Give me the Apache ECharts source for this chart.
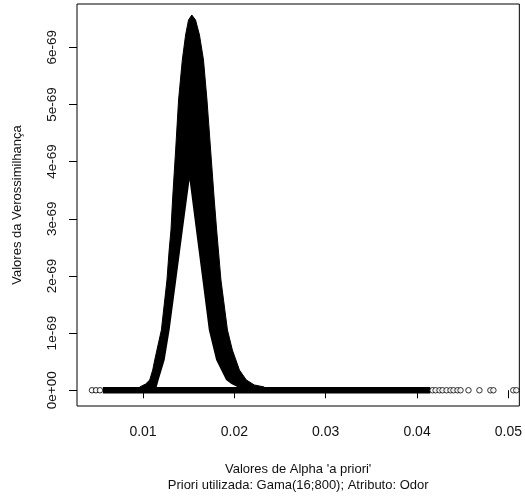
<!DOCTYPE html>
<html>
<head>
<meta charset="utf-8">
<script src="https://cdn.jsdelivr.net/npm/echarts@6/dist/echarts.min.js"></script>
<style>html,body{margin:0;padding:0;background:#fff}#c{width:525px;height:499px}</style>
</head>
<body>
<div id="c"></div>
<script>
// Likelihood values are in units of 1e-69
const outerAlpha = [0.00964, 0.01029, 0.01073, 0.01106, 0.01128, 0.01201, 0.01262, 0.01286, 0.01306, 0.01323, 0.01357, 0.01389, 0.01430, 0.01466, 0.01498, 0.01534, 0.01575, 0.01618, 0.01662, 0.01700, 0.01740, 0.01780, 0.01806, 0.01853, 0.01924, 0.01978, 0.02055, 0.02131, 0.02218, 0.02327];
const outerValue = [0.058, 0.110, 0.180, 0.355, 0.530, 1.055, 1.929, 2.454, 2.804, 3.329, 4.203, 5.078, 5.778, 6.215, 6.477, 6.565, 6.477, 6.215, 5.778, 5.078, 4.203, 3.329, 2.804, 1.929, 1.055, 0.705, 0.355, 0.180, 0.093, 0.058];
const innerAlpha = [0.01150, 0.01171, 0.01237, 0.01291, 0.01364, 0.01436, 0.01509, 0.01579, 0.01650, 0.01720, 0.01800, 0.01909, 0.01967, 0.02033];
const innerValue = [0.058, 0.180, 0.530, 1.055, 1.929, 2.804, 3.678, 2.804, 1.929, 1.055, 0.530, 0.180, 0.110, 0.058];
const baselineAlpha = [0.0056, 0.04145];
const tailAlpha = [0.00441, 0.00485, 0.00528, 0.04170, 0.04203, 0.04246, 0.04279, 0.04323, 0.04366, 0.04399, 0.04443, 0.04476, 0.04563, 0.04683, 0.04803, 0.04836, 0.05054, 0.05087];
const xTicks = [0.01, 0.02, 0.03, 0.04, 0.05];
const yTicks = [0, 1, 2, 3, 4, 5, 6];
const yTickLabels = ['0e+00', '1e-69', '2e-69', '3e-69', '4e-69', '5e-69', '6e-69'];

const font = '"Liberation Sans", Arial, Helvetica, sans-serif';
const chart = echarts.init(document.getElementById('c'), null, {renderer: 'canvas'});
const zip = (a, b) => a.map((x, i) => [x, b[i]]);

chart.setOption({
  animation: false,
  backgroundColor: '#fff',
  grid: {left: 77, right: 4, top: 4, bottom: 93, show: true, borderColor: '#000', borderWidth: 1, backgroundColor: 'transparent'},
  xAxis: {
    type: 'value', min: 0.00277, max: 0.0512,
    axisLine: {show: false},
    splitLine: {show: false},
    axisTick: {show: true, inside: false, length: 8, lineStyle: {color: '#000'}, customValues: xTicks},
    axisLabel: {customValues: xTicks, formatter: v => v.toFixed(2), color: '#111', fontSize: 14, fontFamily: font, margin: 19},
    name: "Valores de Alpha 'a priori'\nPriori utilizada: Gama(16;800); Atributo: Odor",
    nameLocation: 'middle', nameGap: 55,
    nameTextStyle: {color: '#111', fontSize: 13, fontFamily: font, lineHeight: 16}
  },
  yAxis: {
    type: 'value', min: -0.275, max: 6.757,
    axisLine: {show: false},
    splitLine: {show: false},
    axisTick: {show: true, inside: false, length: 8, lineStyle: {color: '#000'}, customValues: yTicks},
    axisLabel: {customValues: yTicks, rotate: 90, formatter: v => yTickLabels[yTicks.indexOf(Math.round(v))], color: '#111', fontSize: 13.5, fontFamily: font, margin: 18},
    name: 'Valores da Verossimilhança',
    nameLocation: 'middle', nameRotate: 90, nameGap: 53,
    nameTextStyle: {color: '#111', fontSize: 13, fontFamily: font}
  },
  series: [
    {type: 'line', data: zip(outerAlpha, outerValue), symbol: 'none', smooth: false, z: 2,
     lineStyle: {width: 1, color: '#000', join: 'round'}, areaStyle: {color: '#000', opacity: 1}},
    {type: 'line', data: zip(innerAlpha, innerValue), symbol: 'none', smooth: false, z: 3,
     lineStyle: {width: 0, opacity: 0}, areaStyle: {color: '#fff', opacity: 1}},
    {type: 'line', data: baselineAlpha.map(a => [a, 0]), symbol: 'none', z: 4,
     lineStyle: {width: 6.5, color: '#000', cap: 'butt'}},
    {type: 'scatter', data: tailAlpha.map(a => [a, 0]), symbol: 'circle', symbolSize: 5.5, z: 5,
     itemStyle: {color: '#fff', borderColor: '#000', borderWidth: 1}}
  ]
});
</script>
</body>
</html>
